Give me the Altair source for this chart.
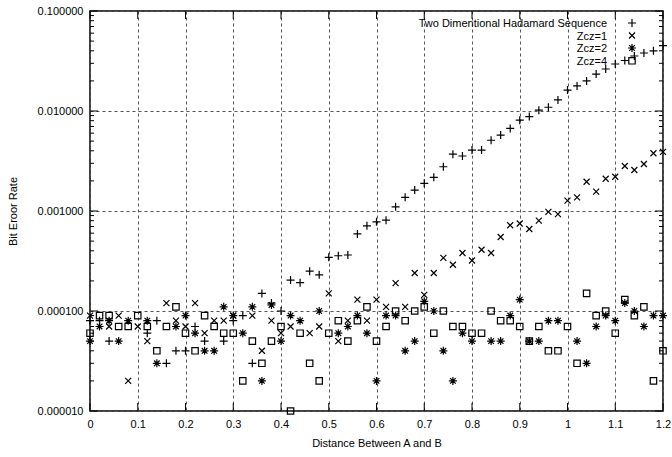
import altair as alt
import pandas as pd

# ---------------- data ----------------
x_vals = [0.00, 0.02, 0.04, 0.06, 0.08, 0.10, 0.12, 0.14, 0.16, 0.18,
          0.20, 0.22, 0.24, 0.26, 0.28, 0.30, 0.32, 0.34, 0.36, 0.38,
          0.40, 0.42, 0.44, 0.46, 0.48, 0.50, 0.52, 0.54, 0.56, 0.58,
          0.60, 0.62, 0.64, 0.66, 0.68, 0.70, 0.72, 0.74, 0.76, 0.78,
          0.80, 0.82, 0.84, 0.86, 0.88, 0.90, 0.92, 0.94, 0.96, 0.98,
          1.00, 1.02, 1.04, 1.06, 1.08, 1.10, 1.12, 1.14, 1.16, 1.18,
          1.20]

ber_hadamard = [8e-5, 8e-5, 5e-5, None, None, None, 6e-5, 8e-5, 3e-5, 4e-5,
                4e-5, 7e-5, 5e-5, None, 5e-5, 8e-5, 9e-5, 3e-5, 1.5e-4, 1.2e-4,
                1e-4, 2.04e-4, 1.92e-4, 2.5e-4, 2.3e-4, 3.44e-4, 3.57e-4, 3.63e-4, 5.9e-4, 7.1e-4,
                7.8e-4, 8.1e-4, 1.1e-3, 1.37e-3, 1.62e-3, 1.89e-3, 2.17e-3, 2.77e-3, 3.7e-3, 3.55e-3,
                4.07e-3, 4.07e-3, 5.1e-3, 5.75e-3, 6.7e-3, 8.1e-3, 8.8e-3, 1.02e-2, 1.09e-2, 1.29e-2,
                1.62e-2, 1.78e-2, 2.0e-2, 2.34e-2, 2.63e-2, 2.95e-2, 3.2e-2, 3.55e-2, 3.8e-2, 4.0e-2,
                4.5e-2]

ber_zcz1 = [9e-5, None, 7e-5, 9e-5, 2e-5, 7e-5, 5e-5, None, 1.2e-4, 8e-5,
            7e-5, 1.2e-4, 6e-5, 8e-5, 8e-5, 9e-5, None, 9e-5, 4e-5, 8e-5,
            6e-5, 7e-5, None, 6e-5, 7e-5, 1.5e-4, 5e-5, 8e-5, 1.3e-4, 8e-5,
            1.3e-4, 1.1e-4, 1.9e-4, 1.1e-4, 2.4e-4, 1.45e-4, 2.4e-4, 3.4e-4, 2.9e-4, 3.8e-4,
            3.2e-4, 4.1e-4, 3.8e-4, 5.5e-4, 7.2e-4, 7.5e-4, 6.6e-4, 8.0e-4, 9.8e-4, 9.3e-4,
            1.27e-3, 1.37e-3, 1.96e-3, 1.56e-3, 2.1e-3, 2.2e-3, 2.82e-3, 2.57e-3, 2.95e-3, 3.78e-3,
            3.9e-3]

ber_zcz2 = [5e-5, 7e-5, 8e-5, 5e-5, 8e-5, None, 8e-5, 3e-5, None, 7e-5,
            9e-5, 6e-5, 4e-5, 4e-5, 1.1e-4, 9e-5, 6e-5, 1.1e-4, 2e-5, 1.15e-4,
            5e-5, 9e-5, 8e-5, None, 1e-4, None, 6e-5, 7e-5, 9e-5, 6e-5,
            2e-5, 9e-5, 9e-5, 4e-5, 5e-5, 1.25e-4, 1e-4, 4e-5, 2e-5, 6e-5,
            5e-5, None, 5e-5, 5e-5, 9e-5, 1.3e-4, 5e-5, 5e-5, 8e-5, 8e-5,
            None, 5e-5, 3e-5, 7e-5, 9e-5, 8e-5, 1.2e-4, 1e-4, 7e-5, 9e-5,
            9e-5]

ber_zcz4 = [6e-5, 9e-5, 9e-5, 7e-5, 7e-5, 9e-5, 7e-5, 4e-5, 7e-5, 1.1e-4,
            6e-5, 4e-5, 9e-5, 7e-5, 6e-5, 6e-5, 2e-5, 5e-5, 3e-5, 5e-5,
            7e-5, 1e-5, 6e-5, 3e-5, 2e-5, 6e-5, 8e-5, 5e-5, 8e-5, 1.1e-4,
            5e-5, 7e-5, 1e-4, 8e-5, 1e-4, 1.1e-4, 6e-5, 1e-4, 7e-5, 7e-5,
            6e-5, 6e-5, 1e-4, 8e-5, 8e-5, 7e-5, 5e-5, 7e-5, 4e-5, 4e-5,
            7e-5, 3e-5, 1.5e-4, 9e-5, 1e-4, 6e-5, 1.3e-4, 9e-5, 1.1e-4, 2e-5,
            4e-5]

series_names = ["Two Dimentional Hadamard Sequence", "Zcz=1", "Zcz=2", "Zcz=4"]
series_values = [ber_hadamard, ber_zcz1, ber_zcz2, ber_zcz4]

x_ticks = [0, 0.1, 0.2, 0.3, 0.4, 0.5, 0.6, 0.7, 0.8, 0.9, 1.0, 1.1, 1.2]
y_ticks = [1e-5, 1e-4, 1e-3, 1e-2, 1e-1]
y_minor = [m * 10.0 ** e for e in range(-5, -1) for m in range(2, 10)]

# ---------------- style ----------------
W, H = 573, 400
FONT = "Liberation Sans"
SHAPES = [
    "M-1,0L1,0M0,-1L0,1",                                            # +
    "M-0.75,-0.75L0.75,0.75M-0.75,0.75L0.75,-0.75",                  # x
    "M-1,0L1,0M0,-1L0,1M-0.7,-0.7L0.7,0.7M-0.7,0.7L0.7,-0.7",       # star
    "M-0.8,-0.8L0.8,-0.8L0.8,0.8L-0.8,0.8Z",                         # open square
]
LEG_Y = [12, 24.5, 37, 49.8]

xscale = alt.Scale(domain=[0, 1.2], nice=False, zero=False)
yscale = alt.Scale(type="log", domain=[1e-5, 1e-1], nice=False)

x_axis = alt.Axis(values=x_ticks, format="~g", grid=True, gridDash=[3, 3],
                  gridColor="#555", gridWidth=1, ticks=False, domain=False,
                  labelFont=FONT, labelFontSize=11, labelColor="black",
                  labelPadding=7, labelFlush=False, labelOverlap=False,
                  title="Distance Between A and B",
                  titleFont=FONT, titleFontSize=11, titleFontWeight="normal",
                  titleColor="black", titlePadding=8)
y_axis = alt.Axis(values=y_ticks, format=".6f", grid=True, gridDash=[3, 3],
                  gridColor="#555", gridWidth=1, ticks=False, domain=False,
                  labelFont=FONT, labelFontSize=11, labelColor="black",
                  labelPadding=7, labelFlush=False, labelOverlap=False,
                  title="Bit Eroor Rate",
                  titleFont=FONT, titleFontSize=11, titleFontWeight="normal",
                  titleColor="black", titlePadding=19)

# long-format table built from the named arrays
rows = []
for name, vals in zip(series_names, series_values):
    for xv, bv in zip(x_vals, vals):
        if bv is not None:
            rows.append({"x": xv, "ber": bv, "series": name})
data = pd.DataFrame(rows)

layers = []

# series points
for i, name in enumerate(series_names):
    layers.append(
        alt.Chart(data).transform_filter(alt.datum.series == name)
        .mark_point(shape=SHAPES[i], filled=False, size=64,
                    color="black", strokeWidth=1.2, opacity=1)
        .encode(x=alt.X("x:Q", scale=xscale, axis=x_axis),
                y=alt.Y("ber:Q", scale=yscale, axis=y_axis))
    )

# inward ticks (gnuplot style)
minor_df = pd.DataFrame({"ber": y_minor})
major_y_df = pd.DataFrame({"ber": y_ticks})
major_x_df = pd.DataFrame({"x": x_ticks})
for x0, x1 in [(0, 4), (W - 4, W)]:
    layers.append(alt.Chart(minor_df).mark_rule(color="black", strokeWidth=1)
                  .encode(y=alt.Y("ber:Q", scale=yscale, axis=y_axis),
                          x=alt.value(x0), x2=alt.value(x1)))
for x0, x1 in [(0, 8), (W - 8, W)]:
    layers.append(alt.Chart(major_y_df).mark_rule(color="black", strokeWidth=1)
                  .encode(y=alt.Y("ber:Q", scale=yscale, axis=y_axis),
                          x=alt.value(x0), x2=alt.value(x1)))
for y0, y1 in [(0, 8), (H - 8, H)]:
    layers.append(alt.Chart(major_x_df).mark_rule(color="black", strokeWidth=1)
                  .encode(x=alt.X("x:Q", scale=xscale, axis=x_axis),
                          y=alt.value(y0), y2=alt.value(y1)))

# legend (label right-aligned, symbol to the right, as in gnuplot)
one = pd.DataFrame({"a": [0]})
for i, name in enumerate(series_names):
    layers.append(alt.Chart(one).mark_text(align="right", baseline="middle",
                                           font=FONT, fontSize=11, color="black")
                  .encode(text=alt.value(name), x=alt.value(517),
                          y=alt.value(LEG_Y[i] + 1)))
    layers.append(alt.Chart(one).mark_point(shape=SHAPES[i], filled=False, size=64,
                                            color="black", strokeWidth=1.2, opacity=1)
                  .encode(x=alt.value(542), y=alt.value(LEG_Y[i])))

chart = (
    alt.layer(*layers)
    .properties(width=W, height=H,
                padding={"left": 90, "top": 11, "right": 9, "bottom": 46},
                autosize=alt.AutoSizeParams(type="none"),
                background="white")
    .configure_view(stroke="black", strokeWidth=1.5)
)

chart.save("out.html", embed_options={"renderer": "svg", "actions": False})
